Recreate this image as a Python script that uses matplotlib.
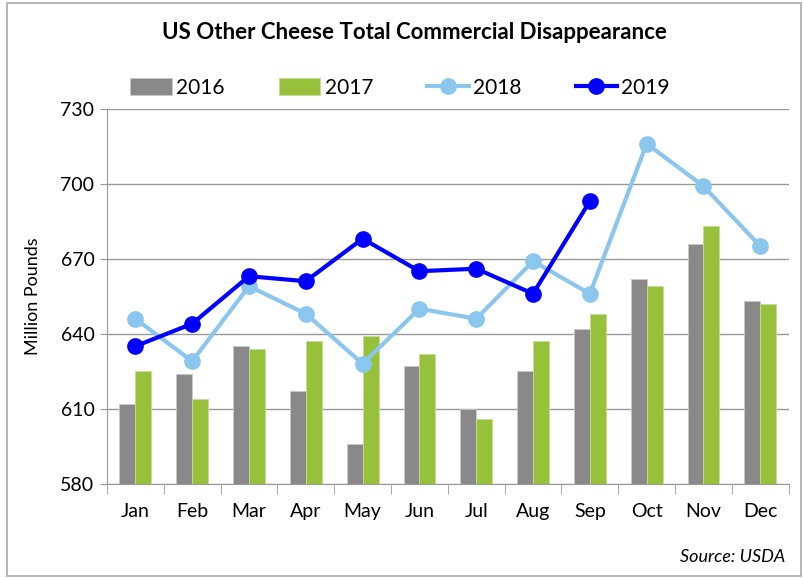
import matplotlib
matplotlib.use("Agg")
import matplotlib.pyplot as plt
from matplotlib.patches import Rectangle
import numpy as np

plt.rcParams['font.family'] = ['Lato', 'DejaVu Sans']

months = ['Jan', 'Feb', 'Mar', 'Apr', 'May', 'Jun', 'Jul', 'Aug', 'Sep', 'Oct', 'Nov', 'Dec']
y2016 = [612, 624, 635, 617, 596, 627, 610, 625, 642, 662, 676, 653]
y2017 = [625, 614, 634, 637, 639, 632, 606, 637, 648, 659, 683, 652]
y2018 = [646, 629, 659, 648, 628, 650, 646, 669, 656, 716, 699, 675]
y2019 = [635, 644, 663, 661, 678, 665, 666, 656, 693]

fig = plt.figure(figsize=(8.04, 5.78), dpi=100)
ax = fig.add_axes([0.133, 0.163, 0.848, 0.649])

x = np.arange(len(months))
w = 0.28
b1 = ax.bar(x - w/2, y2016, w, color='#898989', edgecolor='#c8c8c8', linewidth=0.6, label='2016', zorder=2)
b2 = ax.bar(x + w/2, y2017, w, color='#97c13a', edgecolor='#c8dc9a', linewidth=0.6, label='2017', zorder=2)
l1, = ax.plot(x, y2018, color='#8bc6ee', lw=3, marker='o', ms=11, label='2018', zorder=3)
l2, = ax.plot(x[:len(y2019)], y2019, color='#0000ff', lw=3, marker='o', ms=11, label='2019', zorder=4)

ax.set_ylim(580, 730)
ax.set_xlim(-0.5, 11.5)
ax.set_yticks(range(580, 731, 30))
ax.set_xticks(x)
ax.set_xticklabels(months)
ax.set_xticks(np.arange(-0.5, 12, 1), minor=True)
ax.tick_params(axis='x', which='major', length=0, pad=14, labelsize=14)
ax.tick_params(axis='x', which='minor', length=7, color='#999999', direction='out')
ax.tick_params(axis='y', length=5, color='#999999', labelsize=14, pad=4)
ax.grid(axis='y', color='#999999', lw=1, zorder=0)
ax.set_axisbelow(True)
for s in ['top', 'right']:
    ax.spines[s].set_visible(False)
ax.spines['left'].set_color('#999999')
ax.spines['bottom'].set_color('#999999')
ax.set_ylabel('Million Pounds', fontsize=13, labelpad=14)

fig.text(0.515, 0.943, 'US Other Cheese Total Commercial Disappearance', ha='center', va='center',
         fontsize=16, fontweight='bold')
ax.legend([b1, b2, l1, l2], ['2016', '2017', '2018', '2019'], loc='lower center',
          bbox_to_anchor=(0.43, 0.995), ncol=4, frameon=False, fontsize=15,
          handlelength=2.0, handleheight=0.9, columnspacing=2.6, handletextpad=0.2, borderaxespad=0.2)
fig.text(0.977, 0.023, 'Source: USDA', ha='right', va='bottom', fontsize=13, style='italic')

fig.patches.append(Rectangle((0.009, 0.003), 0.987, 0.992, transform=fig.transFigure,
                             fill=False, edgecolor='#aaaaaa', lw=1.2))

fig.savefig('out.png', dpi=100)
